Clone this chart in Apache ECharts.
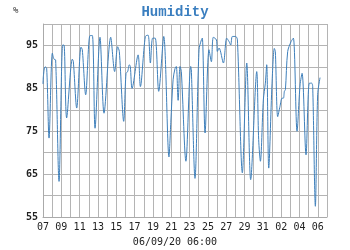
<!DOCTYPE html>
<html>
<head>
<meta charset="utf-8">
<script src="https://cdn.jsdelivr.net/npm/echarts@6/dist/echarts.min.js"></script>
<style>
html,body{margin:0;padding:0;background:#fff;}
#chart{width:350px;height:250px;}
</style>
</head>
<body>
<div id="chart"></div>
<script>
// Day offsets from 07 Aug 2020 00:00
var dayOffsets = [
  0.0, 0.05, 0.22, 0.40, 0.66, 1.02, 1.20, 1.38, 1.75, 2.15, 2.29, 2.58, 3.20, 3.31, 3.68,
  4.15, 4.29, 4.66, 5.13, 5.39, 5.68, 6.22, 6.66, 7.39, 7.82,
  8.15, 8.33, 8.81, 9.06, 9.24, 9.42, 9.53, 9.72, 10.38, 10.63, 11.17, 11.47, 11.72, 11.97,
  12.25, 12.63, 13.18, 13.75, 13.95, 14.2, 14.41, 14.55, 14.75, 14.96, 15.1, 15.6,
  16.12, 16.19, 16.59, 17.03, 17.29, 17.39, 17.69, 18.12, 18.38, 18.59, 18.93, 19.03, 19.22,
  19.69, 20.05, 20.31, 20.49, 20.67, 21.03, 21.22, 21.76, 22.24, 22.67, 23.33,
  23.54, 23.73, 24.05, 24.27, 24.42, 24.64, 25.0, 25.25, 25.36, 25.62, 25.87, 26.09, 26.24,
  26.35, 26.46, 26.71, 27.08, 27.33, 27.73, 28.06, 28.28, 28.71, 29.07, 29.33, 29.44, 29.73,
  29.98, 30.24
];
var humidity = [
  86, 88, 90, 89.7, 73.4, 93.2, 91.8, 91.6, 63.3, 95.1, 95.1, 78.1, 91.8, 91.3, 80.4,
  94.6, 94.0, 83.5, 97.3, 97.3, 75.7, 96.9, 79.2, 96.9, 88.9,
  94.7, 93.6, 77.3, 88.5, 88.9, 90.5, 90.1, 85.0, 92.8, 85.4, 97.1, 97.4, 90.9, 96.7,
  96.7, 84.3, 97.1, 69.0, 77, 87, 89.6, 90.1, 82.2, 90.1, 88.9, 68.0,
  90.1, 89.4, 64.0, 94.0, 96.3, 96.7, 74.6, 94.0, 91.2, 96.9, 96.3, 93.6, 94.4,
  90.9, 96.7, 95.9, 95.1, 97.1, 97.1, 96.3, 65.3, 90.9, 63.7, 88.9,
  73.1, 68.0, 82.3, 86.2, 90.5, 66.4, 86.2, 94.3, 93.6, 78.4, 80.8, 82.7, 82.7,
  84.3, 84.7, 93.6, 95.9, 96.7, 75.0, 85.8, 88.5, 69.5, 86.2, 86.2, 85.4, 57.5,
  83.5, 87.5
];
// Tick labels for each day offset 0..31 (blank = unlabelled gridline)
var dayLabels = ['07','','09','','11','','13','','15','','17','','19','','21','','23','','25','','27','','29','','31','','02','','04','','06',''];
var yLabels = {55:'55', 65:'65', 75:'75', 85:'85', 95:'95'};
var titleText = 'Humidity';
var unitText = '%';
var dateText = '06/09/20 06:00';

var seriesData = dayOffsets.map(function(d, i){ return [d, humidity[i]]; });

var chart = echarts.init(document.getElementById('chart'), null, {renderer:'canvas'});
chart.setOption({
  animation: false,
  backgroundColor: '#fff',
  title: [
    {text: titleText, left: 'center', top: 0,
     textStyle: {fontFamily: 'Liberation Mono', fontWeight: 'bold', fontSize: 14, color: '#3a7ebf'}},
    {text: unitText, left: 8, top: 1,
     textStyle: {fontFamily: 'DejaVu Sans Mono', fontWeight: 'normal', fontSize: 9, color: '#333'}},
    {text: dateText, left: 'center', top: 232,
     textStyle: {fontFamily: 'DejaVu Sans Mono', fontWeight: 'normal', fontSize: 10, color: '#222'}}
  ],
  grid: {left: 43, right: 23, top: 24, bottom: 33, containLabel: false},
  xAxis: {
    type: 'value', min: 0, max: 31, interval: 1,
    axisLine: {show: true, lineStyle: {color: '#aaa', width: 1}},
    axisTick: {show: false},
    splitLine: {show: true, lineStyle: {color: '#b4b4b4', width: 1}},
    axisLabel: {
      margin: 5,
      fontFamily: 'DejaVu Sans Mono', fontSize: 10, color: '#222',
      formatter: function(v){ var i = Math.round(v); return dayLabels[i] || ''; },
      showMaxLabel: true, showMinLabel: true
    }
  },
  yAxis: {
    type: 'value', min: 55, max: 100, interval: 5,
    axisLine: {show: true, lineStyle: {color: '#aaa', width: 1}},
    axisTick: {show: false},
    splitLine: {show: true, lineStyle: {color: '#b4b4b4', width: 1}},
    axisLabel: {
      margin: 5,
      fontFamily: 'DejaVu Sans Mono', fontSize: 10, fontWeight: 'bold', color: '#222',
      formatter: function(v){ return yLabels[Math.round(v)] || ''; }
    }
  },
  series: [{
    type: 'line',
    data: seriesData,
    showSymbol: false,
    smooth: 0.3,
    lineStyle: {color: '#3f80bb', width: 1},
    z: 5
  }]
});
</script>
</body>
</html>
